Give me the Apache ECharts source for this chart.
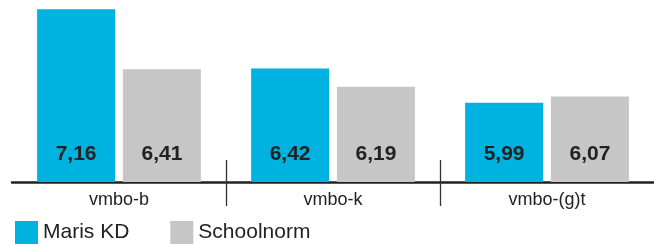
<!DOCTYPE html>
<html>
<head>
<meta charset="utf-8">
<script src="https://cdn.jsdelivr.net/npm/echarts@6/dist/echarts.min.js"></script>
<style>
html, body { margin: 0; padding: 0; background: #fff; }
#chart { width: 654px; height: 246px; }
</style>
</head>
<body>
<div id="chart"></div>
<script>
// 数据
var categories = ['vmbo-b', 'vmbo-k', 'vmbo-(g)t'];
var marisKD = [7.16, 6.42, 5.99];
var schoolnorm = [6.41, 6.19, 6.07];
var seriesNames = ['Maris KD', 'Schoolnorm'];

var myChart = echarts.init(document.getElementById('chart'));

// 标签：逗号作小数点
function fmt(p) {
    return p.value.toFixed(2).replace('.', ',');
}

// 组之间的分隔位置 (1, 2)
var dividers = categories.map(function (c, i) { return i; }).slice(1);

var valueLabel = {
    show: true,
    position: 'insideBottom',
    distance: 17,
    formatter: fmt,
    color: '#222',
    fontSize: 21,
    fontWeight: 'bold',
    fontFamily: 'Liberation Sans'
};

// 分隔线用的数值轴
function dividerAxis(inside, len) {
    return {
        type: 'value',
        min: 0,
        max: categories.length,
        position: 'bottom',
        axisLine: { show: false },
        axisLabel: { show: false },
        splitLine: { show: false },
        axisTick: {
            show: true,
            inside: inside,
            length: len,
            customValues: dividers,
            lineStyle: { color: '#333', width: 1.3 }
        }
    };
}

var option = {
    animation: false,
    grid: {
        left: 12,
        right: -3,
        top: 6,
        bottom: 64
    },
    legend: {
        left: 10,
        top: 216,
        itemWidth: 23,
        itemHeight: 23,
        itemGap: 41,
        icon: 'rect',
        textStyle: {
            color: '#222',
            fontSize: 21,
            fontFamily: 'Liberation Sans'
        },
        data: seriesNames
    },
    xAxis: [
        {
            type: 'category',
            data: categories,
            position: 'bottom',
            axisLine: { lineStyle: { color: '#222', width: 2.5 } },
            axisTick: { show: false },
            axisLabel: {
                color: '#222',
                fontSize: 18,
                fontFamily: 'Liberation Sans',
                margin: 9
            }
        },
        dividerAxis(true, 22),
        dividerAxis(false, 24)
    ],
    yAxis: {
        type: 'value',
        min: 5,
        max: 7.2,
        show: false,
        splitLine: { show: false }
    },
    series: [
        {
            name: seriesNames[0],
            type: 'bar',
            data: marisKD,
            barWidth: 78,
            barGap: '10%',
            itemStyle: { color: '#00b2e0' },
            label: valueLabel
        },
        {
            name: seriesNames[1],
            type: 'bar',
            data: schoolnorm,
            barWidth: 78,
            barGap: '10%',
            itemStyle: { color: '#c6c6c6' },
            label: valueLabel
        }
    ]
};
myChart.setOption(option);
</script>
</body>
</html>
